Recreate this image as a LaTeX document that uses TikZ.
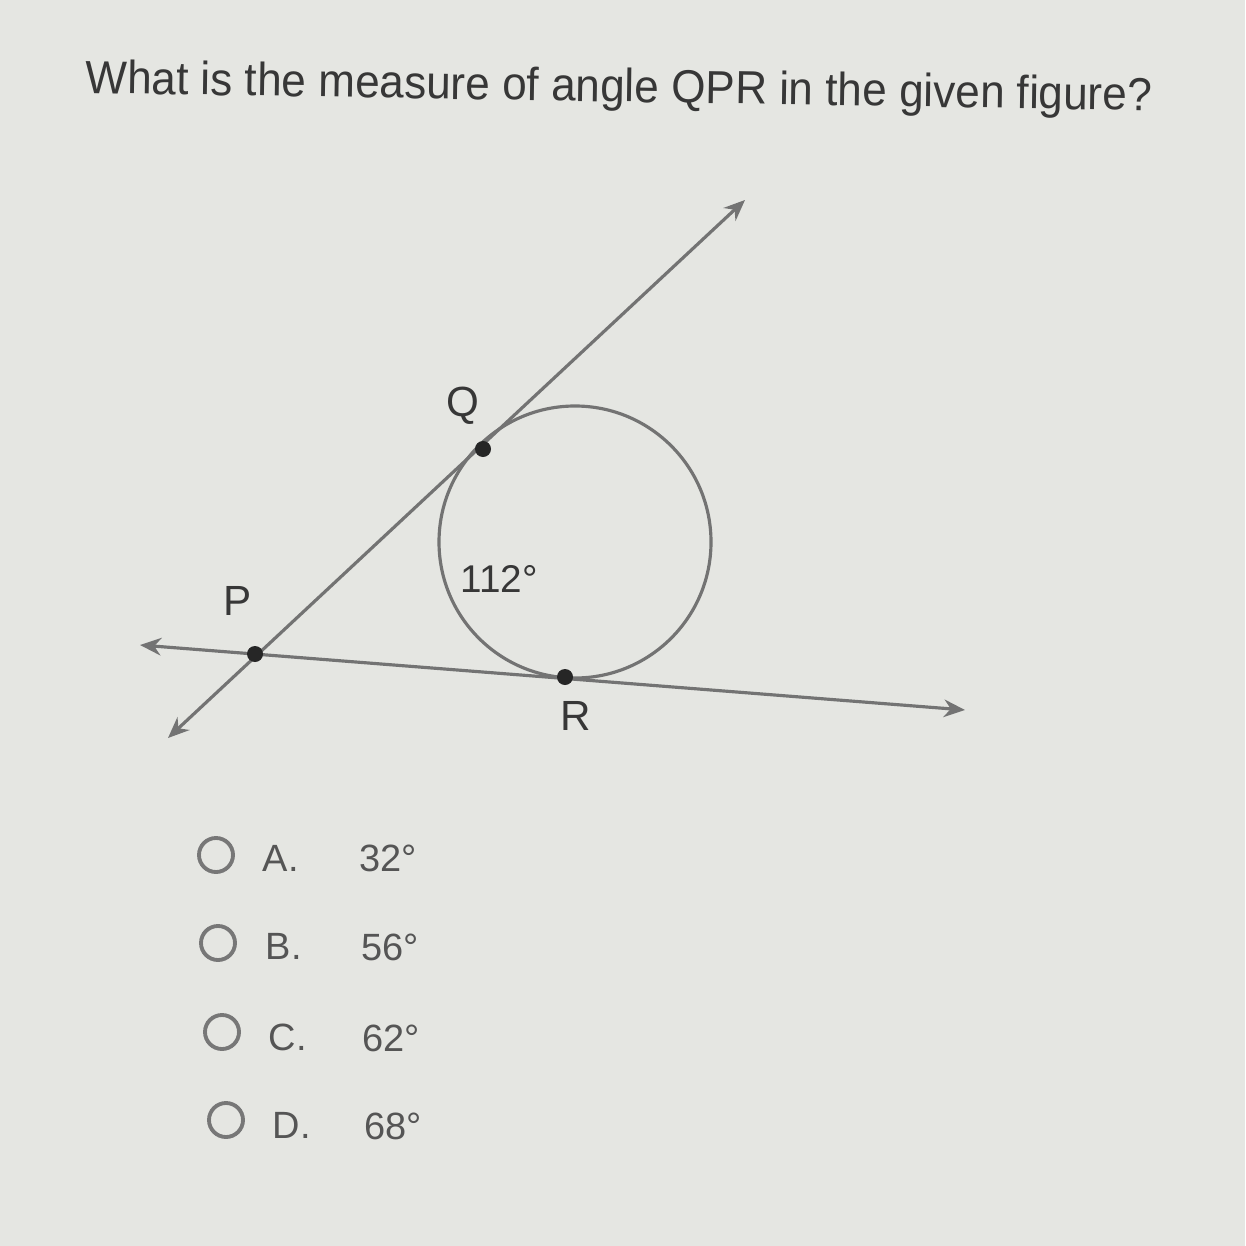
\documentclass[tikz,border=0pt]{standalone}
\usepackage{fontspec}
\setmainfont{Liberation Sans}
\usetikzlibrary{arrows.meta}
\definecolor{bg}{RGB}{229,230,226}
\definecolor{ink}{RGB}{55,55,55}
\definecolor{geo}{RGB}{115,115,115}
\definecolor{opt}{RGB}{85,85,85}
\tikzset{
  geoline/.style={draw=geo, line width=0.9pt},
  arr/.style={geoline, {Stealth[length=6pt,width=5pt]}-{Stealth[length=6pt,width=5pt]}},
  ptdot/.style={circle, fill=black!85, inner sep=0pt, minimum size=0.16cm},
  ptlabel/.style={text=ink, font=\fontsize{12}{14}\selectfont, inner sep=0pt},
  title/.style={text=ink, font=\fontsize{13.2}{16}\selectfont, inner sep=0pt, anchor=base west, xscale=0.95},
  radio/.style={circle, draw=opt!80, line width=1.1pt, minimum size=0.34cm, inner sep=0pt},
  optlabel/.style={text=opt, font=\fontsize{10.8}{13}\selectfont, inner sep=0pt, anchor=base west},
}
\begin{document}
\begin{tikzpicture}[x=0.01cm, y=-0.01cm]
\fill[bg] (0,0) rectangle (1245,1246);
\useasboundingbox (0,0) rectangle (1245,1246);
% title
\node[title, rotate=-0.9] (t) at (85,93) {What is the measure of angle QPR in the given figure?};
% geometry
\coordinate (ll) at (168,738);
\coordinate (ur) at (745,200);
\coordinate (lw) at (140,645);
\coordinate (rt) at (965,710);
\coordinate (c) at (575,542);
\draw[geoline] (c) circle[radius=136];
\draw[arr] (ll) -- (ur);
\draw[arr] (lw) -- (rt);
\node[ptdot] (P) at (255,654) {};
\node[ptdot] (Q) at (483,449) {};
\node[ptdot] (R) at (565,677) {};
\node[ptlabel] (lQ) at (463,406) {Q};
\node[ptlabel] (lP) at (238,601) {P};
\node[ptlabel] (lR) at (576,716) {R};
\node[ptlabel, font=\fontsize{11}{13}\selectfont] (arc) at (499,579) {112°};
% options
\node[radio] (rA) at (216,855) {};
\node[radio] (rB) at (218,943) {};
\node[radio] (rC) at (222,1032) {};
\node[radio] (rD) at (226,1120) {};
\node[optlabel] (oA) at (262,871) {A.};
\node[optlabel] (oB) at (265,959) {B.};
\node[optlabel] (oC) at (268,1050) {C.};
\node[optlabel] (oD) at (272,1138) {D.};
\node[optlabel] (vA) at (359,871) {32°};
\node[optlabel] (vB) at (361,960) {56°};
\node[optlabel] (vC) at (362,1051) {62°};
\node[optlabel] (vD) at (364,1139) {68°};
\end{tikzpicture}
\end{document}
